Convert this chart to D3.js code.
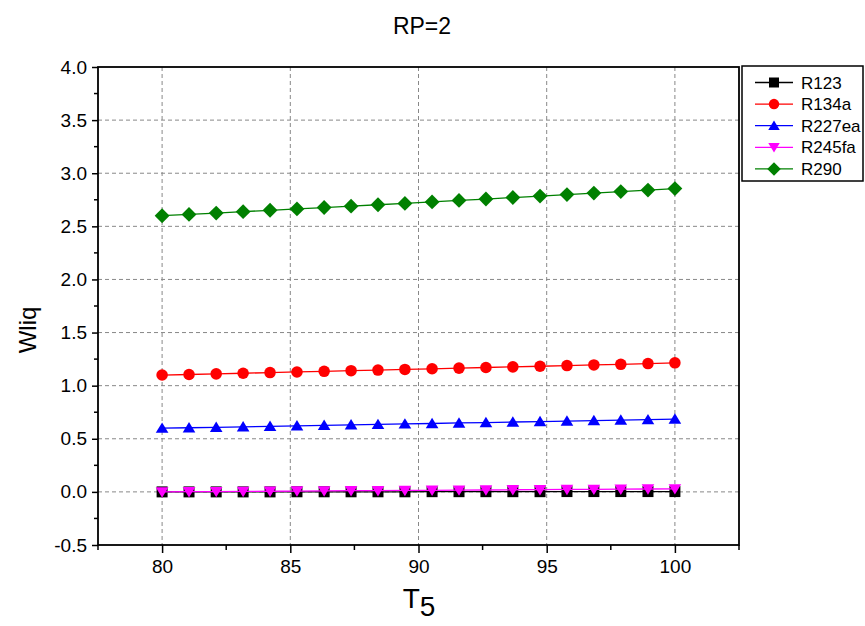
<!DOCTYPE html>
<html>
<head>
<meta charset="utf-8">
<script src="https://cdn.jsdelivr.net/npm/d3@7"></script>
<style>
  body { margin: 0; background: #fff; }
  text { font-family: Arial, "Liberation Sans", sans-serif; fill: #000; }
</style>
</head>
<body>
<div id="chart"></div>
<script>
// x values (T5)
const t5 = [80, 81.05, 82.11, 83.16, 84.21, 85.26, 86.32, 87.37, 88.42, 89.47,
            90.53, 91.58, 92.63, 93.68, 94.74, 95.79, 96.84, 97.89, 98.95, 100]

const r123 = [0.000, 0.000, 0.000, 0.000, 0.000, 0.001, 0.001, 0.001, 0.001, 0.001,
              0.002, 0.002, 0.002, 0.002, 0.002, 0.003, 0.003, 0.003, 0.003, 0.003]
const r134a = [1.100, 1.105, 1.111, 1.117, 1.123, 1.129, 1.135, 1.141, 1.147, 1.153,
               1.159, 1.165, 1.171, 1.177, 1.183, 1.189, 1.195, 1.201, 1.208, 1.215]
const r227ea = [0.600, 0.604, 0.608, 0.613, 0.617, 0.622, 0.626, 0.631, 0.635, 0.640,
                0.644, 0.649, 0.653, 0.658, 0.662, 0.667, 0.671, 0.676, 0.680, 0.685]
const r245fa = [0.000, 0.002, 0.003, 0.005, 0.006, 0.008, 0.009, 0.011, 0.012, 0.014,
                0.015, 0.017, 0.018, 0.020, 0.021, 0.023, 0.024, 0.026, 0.027, 0.029]
const r290 = [2.600, 2.612, 2.625, 2.638, 2.651, 2.664, 2.677, 2.690, 2.703, 2.716,
              2.730, 2.744, 2.757, 2.771, 2.785, 2.799, 2.813, 2.827, 2.841, 2.855]

const seriesNames = ["R123", "R134a", "R227ea", "R245fa", "R290"]
const seriesValues = [r123, r134a, r227ea, r245fa, r290]
const seriesColors = ["#000000", "#ff0000", "#0000ff", "#ff00ff", "#008000"]

const xTicks = [80, 85, 90, 95, 100]
const yTicks = [-0.5, 0, 0.5, 1, 1.5, 2, 2.5, 3, 3.5, 4]

const W = 865, H = 626
const m = { left: 98, top: 67, right: 126, bottom: 81 }
const w = W - m.left - m.right
const h = H - m.top - m.bottom

const svg = d3.select("#chart").append("svg")
    .attr("width", W)
    .attr("height", H)

const g = svg.append("g").attr("transform", `translate(${m.left},${m.top})`)

const x = d3.scaleLinear().domain([77.5, 102.5]).range([0, w])
const y = d3.scaleLinear().domain([-0.5, 4.0]).range([h, 0])

// grid
g.append("g").selectAll("line")
    .data(xTicks)
    .join("line")
    .attr("x1", d => x(d)).attr("x2", d => x(d))
    .attr("y1", 0).attr("y2", h)
    .attr("stroke", "#888").attr("stroke-width", 1)
    .attr("stroke-dasharray", "4,3")

g.append("g").selectAll("line")
    .data(yTicks.filter(d => d > -0.5 && d < 4))
    .join("line")
    .attr("x1", 0).attr("x2", w)
    .attr("y1", d => y(d)).attr("y2", d => y(d))
    .attr("stroke", "#888").attr("stroke-width", 1)
    .attr("stroke-dasharray", "4,3")

// axes
const yFmt = d => d.toFixed(1)  // plain hyphen for negatives

const xAxis = g.append("g")
    .attr("transform", `translate(0,${h})`)
    .call(d3.axisBottom(x).tickValues(xTicks).tickSize(8).tickPadding(7).tickFormat(d3.format("d")))
xAxis.append("g").selectAll("line")
    .data([77.5, 82.5, 87.5, 92.5, 97.5, 102.5])
    .join("line")
    .attr("x1", d => x(d)).attr("x2", d => x(d))
    .attr("y1", 0).attr("y2", 5)
    .attr("stroke", "#000").attr("stroke-width", 1.5)

const yAxis = g.append("g")
    .call(d3.axisLeft(y).tickValues(yTicks).tickSize(6).tickPadding(5).tickFormat(yFmt))
yAxis.append("g").selectAll("line")
    .data(d3.range(-0.25, 4, 0.5))
    .join("line")
    .attr("x1", -4).attr("x2", 0)
    .attr("y1", d => y(d)).attr("y2", d => y(d))
    .attr("stroke", "#000").attr("stroke-width", 1.5)

for (const ax of [xAxis, yAxis]) {
    ax.select(".domain").remove()
    ax.selectAll(".tick line").attr("stroke-width", 1.5)
    ax.selectAll(".tick text").attr("font-size", 19).attr("font-family", "Arial, 'Liberation Sans', sans-serif")
}

// frame
g.append("rect")
    .attr("x", 0).attr("y", 0).attr("width", w).attr("height", h)
    .attr("fill", "none").attr("stroke", "#000").attr("stroke-width", 1.8)

// markers
const markerPath = (i, s) => {
    if (i === 0) return `M${-s},${-s}h${2 * s}v${2 * s}h${-2 * s}Z`
    if (i === 1) return d3.symbol(d3.symbolCircle, Math.PI * s * s * 1.1)()
    if (i === 2) return `M0,${-s * 1.05}L${s * 1.15},${s * 0.85}L${-s * 1.15},${s * 0.85}Z`
    if (i === 3) return `M0,${s * 1.05}L${s * 1.15},${-s * 0.85}L${-s * 1.15},${-s * 0.85}Z`
    return `M0,${-s * 1.35}L${s * 1.35},0L0,${s * 1.35}L${-s * 1.35},0Z`
}

const line = d3.line().x((d, i) => x(t5[i])).y(d => y(d))

seriesValues.forEach((vals, si) => {
    const sg = g.append("g")
    sg.append("path")
        .datum(vals)
        .attr("d", line)
        .attr("fill", "none")
        .attr("stroke", seriesColors[si])
        .attr("stroke-width", 1.3)
    sg.selectAll("path.mk")
        .data(vals)
        .join("path")
        .attr("class", "mk")
        .attr("transform", (d, i) => `translate(${x(t5[i])},${y(d)})`)
        .attr("d", markerPath(si, 5.5))
        .attr("fill", seriesColors[si])
})

// title and labels
svg.append("text")
    .attr("x", 422).attr("y", 34)
    .attr("text-anchor", "middle")
    .attr("font-size", 23)
    .text("RP=2")

svg.append("text")
    .attr("transform", `translate(36,${m.top + h / 2 + 24}) rotate(-90)`)
    .attr("text-anchor", "middle")
    .attr("font-size", 24)
    .text("Wliq")

const xl = svg.append("text")
    .attr("x", 419).attr("y", 608)
    .attr("text-anchor", "middle")
    .attr("font-size", 28)
xl.append("tspan").text("T")
xl.append("tspan").attr("dy", 8).text("5")

// legend
const lg = svg.append("g").attr("transform", "translate(742,66)")
lg.append("rect")
    .attr("width", 121).attr("height", 115)
    .attr("fill", "#fff").attr("stroke", "#000").attr("stroke-width", 1.5)

seriesNames.forEach((name, i) => {
    const ly = 16.5 + i * 21.6
    lg.append("line")
        .attr("x1", 13).attr("x2", 51)
        .attr("y1", ly).attr("y2", ly)
        .attr("stroke", seriesColors[i]).attr("stroke-width", 1.3)
    lg.append("path")
        .attr("transform", `translate(32,${ly})`)
        .attr("d", markerPath(i, 5))
        .attr("fill", seriesColors[i])
    lg.append("text")
        .attr("x", 59).attr("y", ly + 6)
        .attr("font-size", 17)
        .text(name)
})
</script>
</body>
</html>
